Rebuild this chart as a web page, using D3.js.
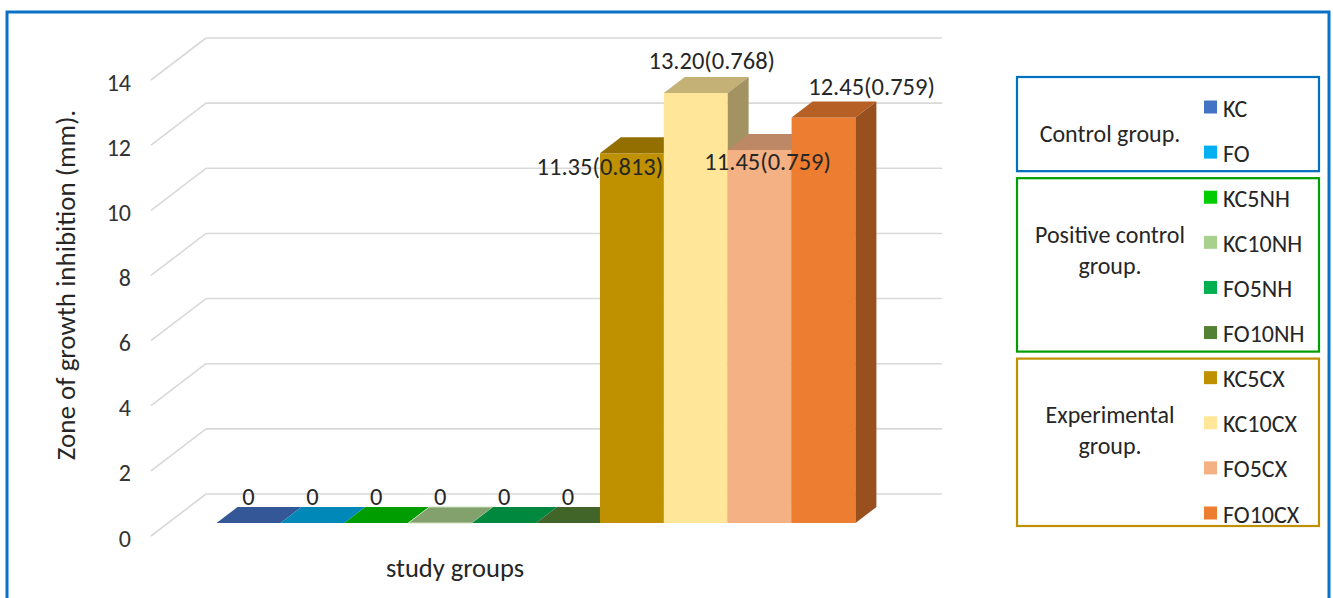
<!DOCTYPE html>
<html>
<head>
<meta charset="utf-8">
<script src="https://cdn.jsdelivr.net/npm/d3@7/dist/d3.min.js"></script>
<style>
    body { margin: 0; background: #fff; }
    svg { display: block; font-family: Carlito, Calibri, Lato, sans-serif; }
</style>
</head>
<body>
<div id="chart"></div>
<script>
// data
const categories = ["KC", "FO", "KC5NH", "KC10NH", "FO5NH", "FO10NH", "KC5CX", "KC10CX", "FO5CX", "FO10CX"];
const values = [0, 0, 0, 0, 0, 0, 11.35, 13.20, 11.45, 12.45];
const sds = [null, null, null, null, null, null, 0.813, 0.768, 0.759, 0.759];
const barColors = ["#4472C4", "#00B0F0", "#00CC00", "#A9D18E", "#00B050", "#548235", "#BF9000", "#FFE699", "#F4B183", "#ED7D31"];
const yTicks = [0, 2, 4, 6, 8, 10, 12, 14];
const groupNames = [["Control group."], ["Positive control", "group."], ["Experimental", "group."]];
const groupMembers = [["KC", "FO"], ["KC5NH", "KC10NH", "FO5NH", "FO10NH"], ["KC5CX", "KC10CX", "FO5CX", "FO10CX"]];
const groupColors = ["#0070C0", "#00A000", "#BF9000"];
// data labels were dragged around in the original, so nudge them from the bar top
const labelNudge = [[0, -26], [0, -26], [0, -26], [0, -26], [0, -26], [0, -26], [-32, 14], [16, -32], [8, 12], [48, -30]];

const width = 1333, height = 598;
const svg = d3.select("#chart").append("svg")
    .attr("width", width)
    .attr("height", height);

// outer frame
svg.append("rect")
    .attr("x", 7).attr("y", 12)
    .attr("width", 1322).attr("height", 620)
    .attr("fill", "none")
    .attr("stroke", "#0A72C6")
    .attr("stroke-width", 3);

// 3D geometry: back wall plus depth vector towards the viewer
const backLeft = 206, backRight = 942;
const depthX = -55, depthY = 42;   // back wall -> front edge of floor
const barFront = 0.69, barBack = 0.31;

const y = d3.scaleLinear().domain([0, 14]).range([494, 38]);
const x = d3.scaleBand().domain(categories).range([backLeft, backRight])
    .paddingInner(0).paddingOuter(0.76);

const g = svg.append("g");

// gridlines: back wall + side wall
yTicks.forEach(t => {
    g.append("line")
        .attr("x1", backLeft).attr("x2", backRight)
        .attr("y1", y(t)).attr("y2", y(t))
        .attr("stroke", "#D9D9D9").attr("stroke-width", 1.6);
    g.append("line")
        .attr("x1", backLeft + depthX).attr("y1", y(t) + depthY)
        .attr("x2", backLeft).attr("y2", y(t))
        .attr("stroke", "#D9D9D9").attr("stroke-width", 1.6);
    g.append("text")
        .attr("x", backLeft + depthX - 20)
        .attr("y", y(t) + depthY + 2)
        .attr("text-anchor", "end")
        .attr("dominant-baseline", "central")
        .attr("font-size", 24)
        .attr("fill", "#333")
        .text(t);
});

function shade(c, k) {
    const col = d3.rgb(c);
    return d3.rgb(col.r * k, col.g * k, col.b * k).formatHex();
}

// bars
const fx = depthX * barFront, fy = depthY * barFront;
const bdx = depthX * (barBack - barFront), bdy = depthY * (barBack - barFront);
const bw = x.bandwidth();

categories.forEach((c, i) => {
    const x0 = x(c) + fx;
    const yTop = y(values[i]) + fy;
    const yBot = y(0) + fy;
    const col = barColors[i];
    const bar = g.append("g");
    bar.append("rect")
        .attr("x", x0).attr("y", yTop)
        .attr("width", bw).attr("height", yBot - yTop)
        .attr("fill", col);
    bar.append("polygon")
        .attr("points", [[x0, yTop], [x0 + bw, yTop], [x0 + bw + bdx, yTop + bdy], [x0 + bdx, yTop + bdy]].join(" "))
        .attr("fill", shade(col, 0.77))
        .attr("stroke", i === 3 ? "#C9DDB8" : "none")
        .attr("stroke-width", 1);
    bar.append("polygon")
        .attr("points", [[x0 + bw, yTop], [x0 + bw + bdx, yTop + bdy], [x0 + bw + bdx, yBot + bdy], [x0 + bw, yBot]].join(" "))
        .attr("fill", shade(col, 0.64));
});

// data labels
categories.forEach((c, i) => {
    const cx = x(c) + fx + bw / 2;
    const yTop = y(values[i]) + fy;
    const txt = sds[i] == null ? d3.format("")(values[i]) : d3.format(".2f")(values[i]) + "(" + sds[i] + ")";
    g.append("text")
        .attr("x", cx + labelNudge[i][0])
        .attr("y", yTop + labelNudge[i][1])
        .attr("text-anchor", "middle")
        .attr("dominant-baseline", "central")
        .attr("font-size", 24.5)
        .attr("fill", "#262626")
        .text(txt);
});

// axis titles
svg.append("text")
    .attr("transform", "translate(65,285) rotate(-90)")
    .attr("text-anchor", "middle")
    .attr("dominant-baseline", "central")
    .attr("font-size", 27)
    .attr("fill", "#262626")
    .text("Zone of growth inhibition (mm).");

svg.append("text")
    .attr("x", 455).attr("y", 568)
    .attr("text-anchor", "middle")
    .attr("dominant-baseline", "central")
    .attr("font-size", 26.5)
    .attr("fill", "#262626")
    .text("study groups");

// legend
const legY = d3.scalePoint().domain(categories).range([107, 513]);
const legX = 1204;
const legend = svg.append("g");

categories.forEach((c, i) => {
    legend.append("rect")
        .attr("x", legX).attr("y", legY(c) - 6.5)
        .attr("width", 13).attr("height", 13)
        .attr("fill", barColors[i]);
    legend.append("text")
        .attr("x", legX + 19).attr("y", legY(c) + 1)
        .attr("dominant-baseline", "central")
        .attr("font-size", 24)
        .attr("fill", "#262626")
        .text(c);
});

const step = legY.step();
groupMembers.forEach((mem, gi) => {
    const first = legY(mem[0]), last = legY(mem[mem.length - 1]);
    const top = gi === 0 ? first - 30 : first - step / 2 + 3.5;
    const bot = gi === groupMembers.length - 1 ? last + 13 : last + step / 2 - 3.5;
    legend.append("rect")
        .attr("x", 1017).attr("y", top)
        .attr("width", 302).attr("height", bot - top)
        .attr("fill", "none")
        .attr("stroke", groupColors[gi])
        .attr("stroke-width", 2.2);
    groupNames[gi].forEach((line, li) => {
        legend.append("text")
            .attr("x", 1110).attr("y", top + 56 + li * 31)
            .attr("text-anchor", "middle")
            .attr("dominant-baseline", "central")
            .attr("font-size", 24)
            .attr("fill", "#262626")
            .text(line);
    });
});
</script>
</body>
</html>
